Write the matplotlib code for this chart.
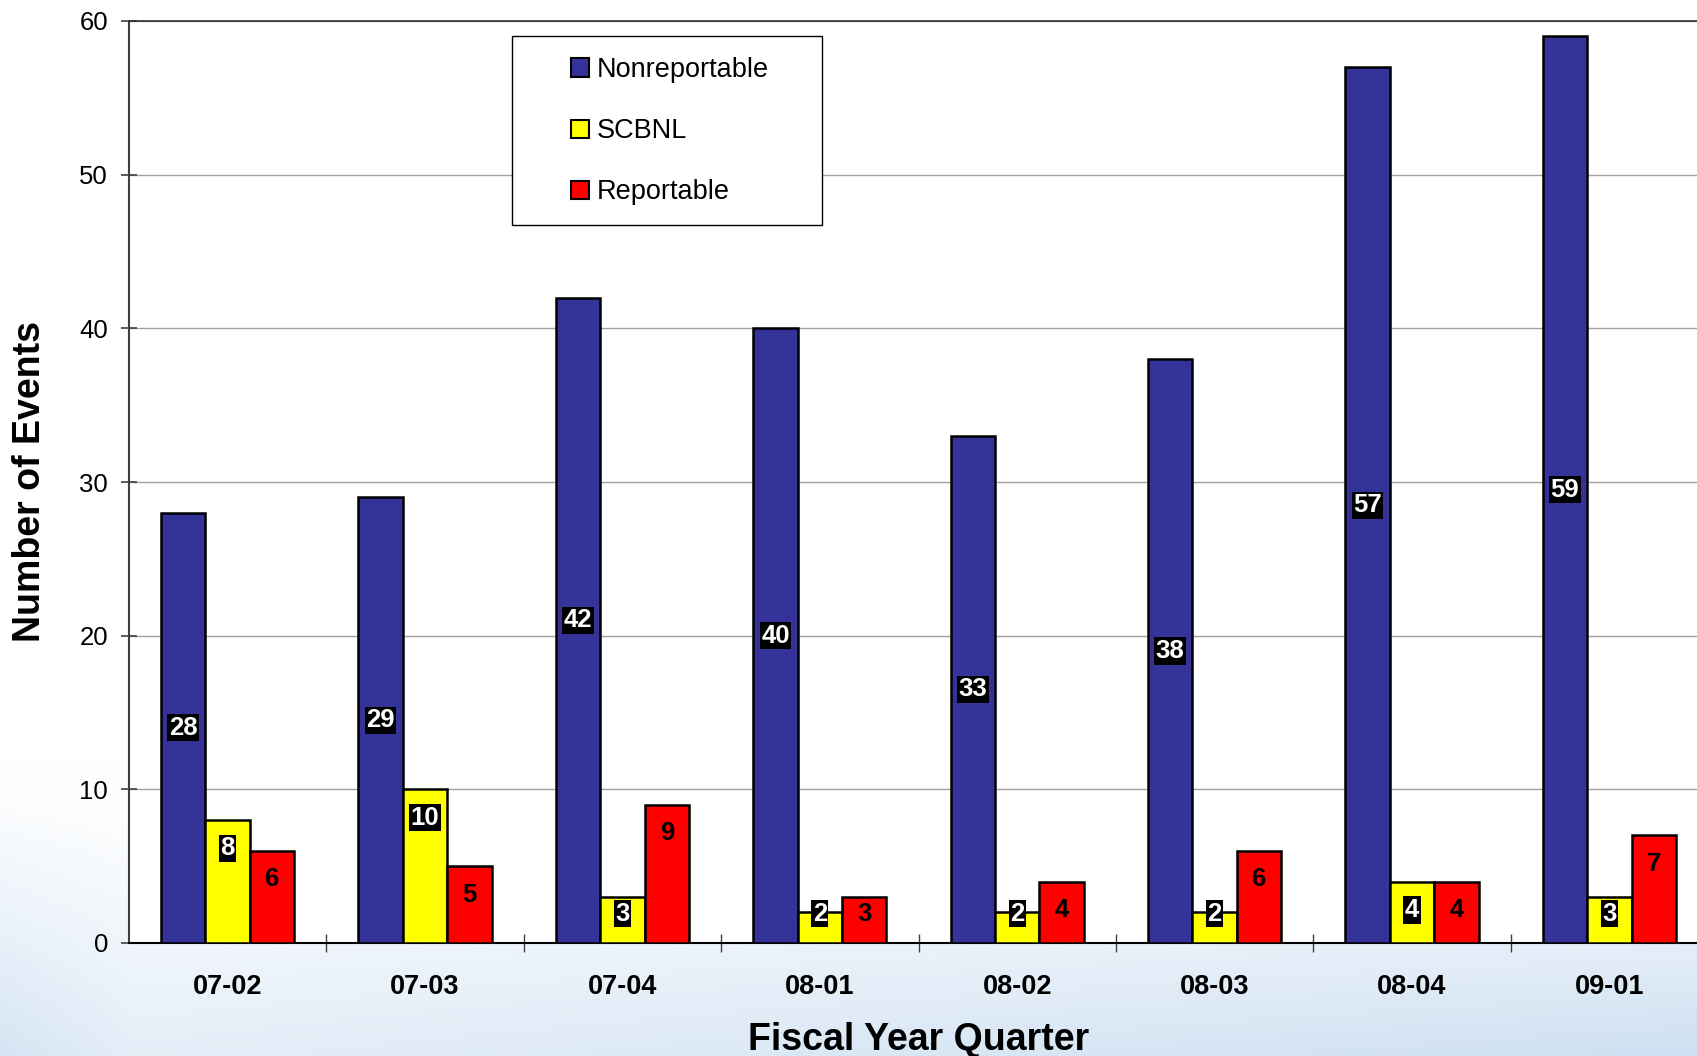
import numpy as np
import matplotlib
matplotlib.use("Agg")
import matplotlib.pyplot as plt
from matplotlib.patches import Patch, Rectangle
from matplotlib.ticker import MultipleLocator

plt.rcParams['font.family'] = ['Liberation Sans', 'DejaVu Sans']

# Chart data
quarters = ['07-02', '07-03', '07-04', '08-01', '08-02', '08-03', '08-04', '09-01']
nonreportable = [28, 29, 42, 40, 33, 38, 57, 59]
scbnl = [8, 10, 3, 2, 2, 2, 4, 3]
reportable = [6, 5, 9, 3, 4, 6, 4, 7]

series_names = ['Nonreportable', 'SCBNL', 'Reportable']
series_colors = ['#333399', '#FFFF00', '#FF0000']

W, H = 1697, 1056
fig = plt.figure(figsize=(W / 100, H / 100), dpi=100)

# soft blue background swoosh below the plot area
bg = fig.add_axes([0, 0, 1, 1], zorder=-10)
yy, xx = np.mgrid[0:1:200j, 0:1:320j]
w = np.clip((yy - 0.74) / 0.26, 0, 1) ** 1.2 * (0.5 + 0.5 * xx)
left = np.clip((yy - 0.72) / 0.28, 0, 1) * np.clip((0.08 - xx) / 0.08, 0, 1) * 0.35
w = np.clip(w + left, 0, 1)
blue = np.array([206, 224, 242]) / 255.0
img = (1 - w)[..., None] * np.ones(3) + w[..., None] * blue
bg.imshow(img, aspect='auto', extent=[0, 1, 0, 1], origin='upper', interpolation='bilinear')
bg.axis('off')

ax = fig.add_axes([129 / W, (H - 943) / H, 1579 / W, 922 / H])
ax.set_facecolor('white')

x = np.arange(len(quarters))
bw = 0.225
values = [nonreportable, scbnl, reportable]
offsets = [-bw, 0, bw]
for vals, off, col, name in zip(values, offsets, series_colors, series_names):
    ax.bar(x + off, vals, bw, color=col, edgecolor='black', linewidth=1.8,
           zorder=3, label=name)

# value labels
box = dict(boxstyle='square,pad=0.06', fc='black', ec='none')
for i in range(len(quarters)):
    ax.text(x[i] - bw, nonreportable[i] / 2, str(nonreportable[i]), ha='center', va='center',
            color='white', fontsize=18.5, fontweight='bold', zorder=5, bbox=box)
    ys = max(scbnl[i] - 1.85, 1.9)
    ax.text(x[i], ys, str(scbnl[i]), ha='center', va='center',
            color='white', fontsize=18.5, fontweight='bold', zorder=5, bbox=box)
    yr = max(reportable[i] - 1.85, 1.9)
    ax.text(x[i] + bw, yr, str(reportable[i]), ha='center', va='center',
            color='black', fontsize=18.5, fontweight='bold', zorder=5)

ax.set_xlim(-0.5, 7.5)
ax.set_ylim(0, 60)
ax.yaxis.set_major_locator(MultipleLocator(10))
ax.grid(axis='y', color='#a0a0a0', linewidth=1.0, zorder=0)
ax.set_axisbelow(True)

ax.set_xticks(x)
ax.set_xticklabels(quarters, fontsize=19.5, fontweight='bold')
ax.set_xticks(x[:-1] + 0.5, minor=True)
ax.tick_params(axis='x', which='major', length=0, pad=22)
ax.tick_params(axis='x', which='minor', direction='inout', length=13, width=1, color='#404040')
ax.tick_params(axis='y', direction='inout', length=12, width=1.2, color='#404040',
               labelsize=18.5, pad=9)

ax.spines['left'].set_color('#404040')
ax.spines['left'].set_linewidth(1.5)
ax.spines['bottom'].set_color('black')
ax.spines['bottom'].set_linewidth(1.5)
ax.spines['top'].set_color('#303030')
ax.spines['top'].set_linewidth(1.2)
ax.spines['right'].set_visible(False)

ax.set_xlabel('Fiscal Year Quarter', fontsize=27, fontweight='bold')
ax.xaxis.set_label_coords(0.5, (943 - 1040) / 922)
ax.xaxis.label.set_va('center')
ax.set_ylabel('Number of Events', fontsize=27, fontweight='bold')
ax.yaxis.set_label_coords((30 - 129) / 1579, 0.5)
ax.yaxis.label.set_va('center')

# legend with its own frame
frame = Rectangle(((512 - 129) / 1579, (943 - 225) / 922), 310 / 1579, 189 / 922,
                  transform=ax.transAxes, facecolor='white', edgecolor='black',
                  linewidth=1.0, zorder=6)
ax.add_patch(frame)
handles = [Patch(facecolor=c, edgecolor='black', linewidth=1.5) for c in series_colors]
leg = ax.legend(handles, series_names, loc='upper left',
                bbox_to_anchor=((571 - 129) / 1579, (943 - 57) / 922),
                frameon=False, fontsize=19.5, borderpad=0, borderaxespad=0,
                handlelength=0.65, handleheight=0.65, handletextpad=0.3,
                labelspacing=1.3)
leg.set_zorder(7)

fig.savefig('out.png', dpi=100)
